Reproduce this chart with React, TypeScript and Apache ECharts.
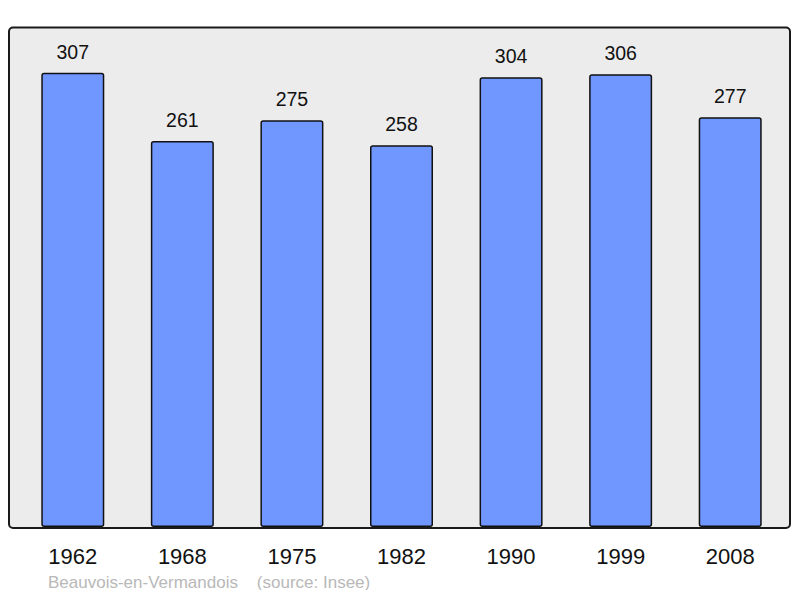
import React, { useEffect, useRef } from 'react';
import * as echarts from 'echarts';

const years = ['1962', '1968', '1975', '1982', '1990', '1999', '2008'];
const population = [307, 261, 275, 258, 304, 306, 277];
const yMax = 338;
const footer = 'Beauvois-en-Vermandois    (source: Insee)';

const App: React.FC = () => {
  const chartRef = useRef<HTMLDivElement>(null);

  useEffect(() => {
    if (!chartRef.current) return;
    const chart = echarts.init(chartRef.current, null, { renderer: 'svg' });

    chart.setOption({
      animation: false,
      backgroundColor: '#ffffff',
      textStyle: { fontFamily: '"Liberation Sans", Arial, sans-serif' },
      graphic: [
        {
          type: 'rect',
          z: -10,
          shape: { x: 9, y: 27.5, width: 781, height: 500.5, r: 4 },
          style: { fill: '#ececec', stroke: '#1a1a1a', lineWidth: 2 },
        },
        {
          type: 'text',
          left: 48,
          top: 574,
          style: {
            text: footer,
            fill: '#b8b8b8',
            fontSize: 17,
            fontFamily: '"Liberation Sans", Arial, sans-serif',
          },
        },
      ],
      grid: { left: 18, right: 15, top: 27, bottom: 71, containLabel: false },
      xAxis: {
        type: 'category',
        data: years,
        axisLine: { show: false },
        axisTick: { show: false },
        axisLabel: { color: '#111', fontSize: 22, margin: 18 },
      },
      yAxis: {
        type: 'value',
        min: 0,
        max: yMax,
        show: false,
        splitLine: { show: false },
      },
      series: [
        {
          type: 'bar',
          data: population,
          barWidth: 63,
          itemStyle: {
            color: '#7096ff',
            borderColor: '#111',
            borderWidth: 1.5,
            borderRadius: 2,
          },
          label: {
            show: true,
            position: 'top',
            distance: 11,
            color: '#111',
            fontSize: 19.5,
          },
        },
      ],
    });

    return () => {
      chart.dispose();
    };
  }, []);

  return <div ref={chartRef} style={{ width: 800, height: 598, margin: '-8px' }} />;
};

export default App;
